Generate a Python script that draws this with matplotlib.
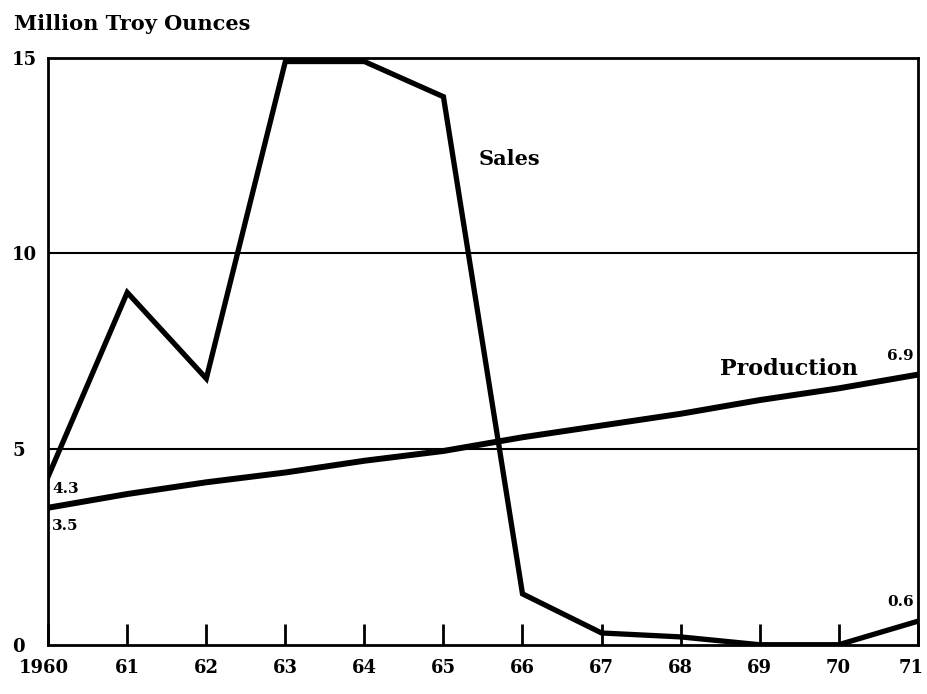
import matplotlib.pyplot as plt
import matplotlib.transforms as mtransforms

years = [1960, 1961, 1962, 1963, 1964, 1965, 1966, 1967, 1968, 1969, 1970, 1971]
sales = [4.3, 9.0, 6.8, 14.9, 14.9, 14.0, 1.3, 0.3, 0.2, 0.0, 0.0, 0.6]
production = [3.5, 3.85, 4.15, 4.4, 4.7, 4.95, 5.3, 5.6, 5.9, 6.25, 6.55, 6.9]
xtick_labels = ['1960', '61', '62', '63', '64', '65', '66', '67', '68', '69', '70', '71']
yticks = [0, 5, 10, 15]

plt.rcParams['font.family'] = 'DejaVu Serif'
plt.rcParams['font.weight'] = 'bold'

fig = plt.figure(figsize=(9.27, 6.94), dpi=100)
ax = fig.add_axes([0.052, 0.071, 0.938, 0.846])

for g in [5, 10]:
    ax.axhline(g, color='black', lw=1.5, zorder=1)

ax.plot(years, sales, color='black', lw=3.8, solid_joinstyle='miter', zorder=3)
ax.plot(years, production, color='black', lw=4.3, zorder=3)

ax.set_xlim(1960, 1971)
ax.set_ylim(0, 15)
for s in ax.spines.values():
    s.set_linewidth(2)

ax.set_xticks(years)
ax.set_xticklabels(xtick_labels, fontsize=13, fontweight='bold')
ax.set_yticks(yticks)
ax.set_yticklabels([str(v) for v in yticks], fontsize=13, fontweight='bold', ha='left')
ax.tick_params(axis='x', direction='in', length=15, width=2, pad=10)
ax.tick_params(axis='y', length=0, pad=26)

# nudge the end labels so they stay inside the picture
xl = ax.get_xticklabels()
xl[0].set_transform(xl[0].get_transform() + mtransforms.ScaledTranslation(-3 / 72, 0, fig.dpi_scale_trans))
xl[-1].set_transform(xl[-1].get_transform() + mtransforms.ScaledTranslation(-5 / 72, 0, fig.dpi_scale_trans))

fig.text(0.015, 0.965, 'Million Troy Ounces', fontsize=15, fontweight='bold', va='center')

ax.text(1960.05, sales[0] - 0.15, '4.3', fontsize=11, fontweight='bold', va='top')
ax.text(1960.05, production[0] - 0.3, '3.5', fontsize=11, fontweight='bold', va='top')
ax.text(1970.95, production[-1] + 0.3, '6.9', fontsize=11, fontweight='bold', ha='right', va='bottom')
ax.text(1970.95, sales[-1] + 0.3, '0.6', fontsize=11, fontweight='bold', ha='right', va='bottom')
ax.text(1965.45, 12.4, 'Sales', fontsize=15, fontweight='bold', va='center')
ax.text(1968.5, 7.05, 'Production', fontsize=16, fontweight='bold', va='center')

plt.savefig('out.png')
